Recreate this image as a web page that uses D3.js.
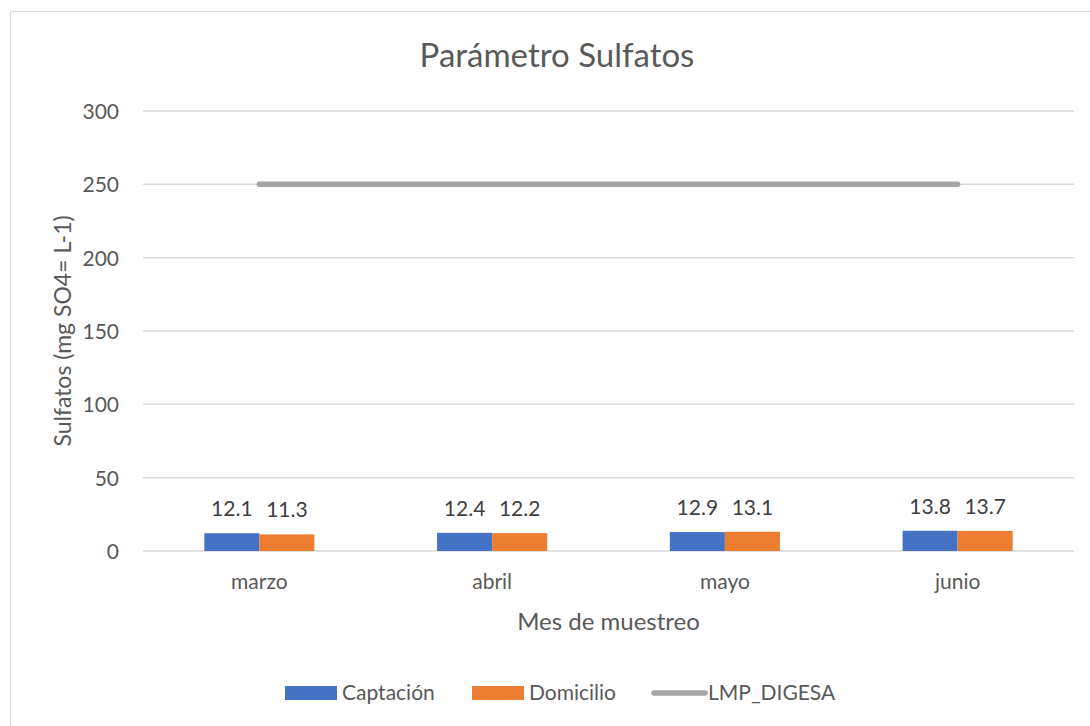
<!DOCTYPE html>
<html>
<head>
<meta charset="utf-8">
<script src="https://d3js.org/d3.v7.min.js"></script>
<style>
  body { margin: 0; background: #fff; }
  text { font-family: Lato, "Open Sans", sans-serif; }
</style>
</head>
<body>
<div id="chart"></div>
<script>
// datos
const meses = ["marzo", "abril", "mayo", "junio"];
const series = ["Captación", "Domicilio"];
const captacion = [12.1, 12.4, 12.9, 13.8];
const domicilio = [11.3, 12.2, 13.1, 13.7];
const lmpDigesa = [250, 250, 250, 250];
const yTicks = [0, 50, 100, 150, 200, 250, 300];

const colores = { "Captación": "#4472c4", "Domicilio": "#ed7d31", "LMP_DIGESA": "#a5a5a5" };

const W = 1090, H = 726;
const margin = { top: 111, right: 16, bottom: 175, left: 143 };
const width = W - margin.left - margin.right;
const height = H - margin.top - margin.bottom;

const svg = d3.select("#chart").append("svg")
  .attr("width", W)
  .attr("height", H);

// borde del área del gráfico
svg.append("rect")
  .attr("x", 10.5).attr("y", 11.5)
  .attr("width", 1100).attr("height", 800)
  .attr("fill", "none")
  .attr("stroke", "#d9d9d9")
  .attr("stroke-width", 1.2);

const g = svg.append("g")
  .attr("transform", `translate(${margin.left},${margin.top})`);

// escalas
const x0 = d3.scaleBand()
  .domain(meses)
  .range([0, width])
  .paddingInner(0.527)
  .paddingOuter(0.527 / 2);

const x1 = d3.scaleBand()
  .domain(series)
  .range([0, x0.bandwidth()]);

const y = d3.scaleLinear()
  .domain([0, 300])
  .range([height, 0]);

// líneas de cuadrícula
g.append("g")
  .selectAll("line")
  .data(yTicks)
  .enter().append("line")
  .attr("x1", 0)
  .attr("x2", width)
  .attr("y1", d => y(d))
  .attr("y2", d => y(d))
  .attr("stroke", "#d9d9d9")
  .attr("stroke-width", 1.5);

// eje Y
const yAxis = g.append("g")
  .call(d3.axisLeft(y).tickValues(yTicks).tickSize(0).tickPadding(24));
yAxis.select(".domain").remove();
yAxis.selectAll("text")
  .attr("fill", "#595959")
  .style("font-size", "21px")
  .attr("dy", "0.35em");

// eje X
const xAxis = g.append("g")
  .attr("transform", `translate(0,${height})`)
  .call(d3.axisBottom(x0).tickSize(0).tickPadding(23));
xAxis.select(".domain").remove();
xAxis.selectAll("text")
  .attr("fill", "#595959")
  .style("font-size", "21px");

// barras
const filas = meses.map((m, i) => ({ mes: m, valores: [
  { serie: "Captación", valor: captacion[i] },
  { serie: "Domicilio", valor: domicilio[i] }
]}));

const grupos = g.selectAll(".grupo")
  .data(filas)
  .enter().append("g")
  .attr("class", "grupo")
  .attr("transform", d => `translate(${x0(d.mes)},0)`);

grupos.selectAll("rect")
  .data(d => d.valores)
  .enter().append("rect")
  .attr("x", d => x1(d.serie))
  .attr("y", d => y(d.valor))
  .attr("width", x1.bandwidth())
  .attr("height", d => height - y(d.valor))
  .attr("fill", d => colores[d.serie]);

// etiquetas de datos
grupos.selectAll(".etiqueta")
  .data(d => d.valores)
  .enter().append("text")
  .attr("class", "etiqueta")
  .attr("x", d => x1(d.serie) + x1.bandwidth() / 2)
  .attr("y", d => y(d.valor) - 17)
  .attr("text-anchor", "middle")
  .attr("fill", "#404040")
  .style("font-size", "21px")
  .text(d => d.valor.toFixed(1));

// línea LMP_DIGESA
const linea = d3.line()
  .x((d, i) => x0(meses[i]) + x0.bandwidth() / 2)
  .y(d => y(d));

g.append("path")
  .datum(lmpDigesa)
  .attr("d", linea)
  .attr("fill", "none")
  .attr("stroke", colores["LMP_DIGESA"])
  .attr("stroke-width", 5.5)
  .attr("stroke-linecap", "round");

// título
svg.append("text")
  .attr("x", 557)
  .attr("y", 67)
  .attr("text-anchor", "middle")
  .attr("fill", "#595959")
  .style("font-size", "33px")
  .text("Parámetro Sulfatos");

// títulos de ejes
svg.append("text")
  .attr("x", margin.left + width / 2)
  .attr("y", 630)
  .attr("text-anchor", "middle")
  .attr("fill", "#595959")
  .style("font-size", "24px")
  .text("Mes de muestreo");

svg.append("text")
  .attr("transform", `translate(71,${margin.top + height / 2}) rotate(-90)`)
  .attr("text-anchor", "middle")
  .attr("fill", "#595959")
  .style("font-size", "23px")
  .text("Sulfatos (mg SO4= L-1)");

// leyenda
const leyenda = [
  { nombre: "Captación", x: 285, tipo: "rect" },
  { nombre: "Domicilio", x: 472, tipo: "rect" },
  { nombre: "LMP_DIGESA", x: 652, tipo: "line" }
];
const ly = 693;
const items = svg.selectAll(".leyenda")
  .data(leyenda)
  .enter().append("g")
  .attr("class", "leyenda")
  .attr("transform", d => `translate(${d.x},${ly})`);

items.filter(d => d.tipo === "rect").append("rect")
  .attr("x", 0).attr("y", -7)
  .attr("width", 52).attr("height", 14)
  .attr("fill", d => colores[d.nombre]);

items.filter(d => d.tipo === "line").append("line")
  .attr("x1", 2).attr("x2", 53)
  .attr("y1", 0).attr("y2", 0)
  .attr("stroke", d => colores[d.nombre])
  .attr("stroke-width", 5.5)
  .attr("stroke-linecap", "round");

items.append("text")
  .attr("x", d => d.tipo === "rect" ? 57 : 56)
  .attr("y", 0)
  .attr("dy", "0.35em")
  .attr("fill", "#595959")
  .style("font-size", "21px")
  .text(d => d.nombre);
</script>
</body>
</html>
